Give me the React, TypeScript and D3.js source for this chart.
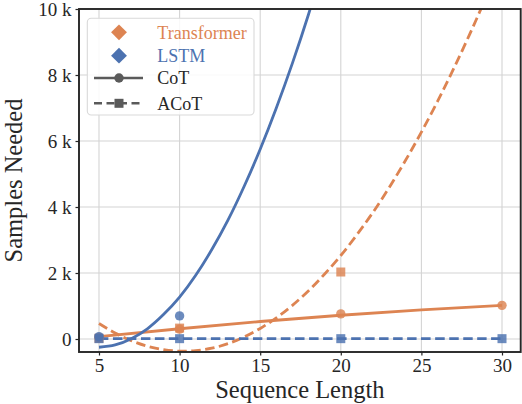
import React, { useEffect, useRef } from 'react';
import * as d3 from 'd3';

// measured points
const seqLen = [5, 10, 20, 30];
const transformerCoT = [50, 300, 760, 1020];
const transformerACoT = [20, 330, 2030, 11500];
const lstmCoT = [70, 700, 13500, 37000];
const lstmACoT = [10, 10, 10, 10];

// fitted curves
const fitTransformerCoTX = [5, 10, 15, 20, 25, 30];
const fitTransformerCoTY = [70, 310, 530, 720, 880, 1020];
const fitTransformerACoTX = [5, 6, 7, 8, 9, 10, 11, 12, 13, 14, 15, 16, 17, 18, 19, 20, 21, 22, 23, 24, 25, 26, 27, 28, 29, 30];
const fitTransformerACoTY = [470, 180, -50, -220, -320, -370, -350, -280, -140, 60, 320, 640, 1020, 1460, 1970, 2530, 3160, 3840, 4590, 5400, 6270, 7200, 8190, 9240, 10350, 11530];
const fitLstmCoTX = [5, 6, 7, 8, 9, 10, 11, 12, 13, 14, 15, 16, 17, 18, 19];
const fitLstmCoTY = [-250, -180, 10, 310, 740, 1270, 1930, 2710, 3600, 4620, 5750, 7000, 8360, 9840, 11440];
const fitLstmACoTX = [5, 10, 20, 30];
const fitLstmACoTY = [10, 10, 10, 10];

const xTicks = [5, 10, 15, 20, 25, 30];
const yTicks = [0, 2000, 4000, 6000, 8000, 10000];
const legendModels = ['Transformer', 'LSTM'];
const legendMethods = ['CoT', 'ACoT'];

const ORANGE = '#dd8452';
const BLUE = '#4c72b0';
const FONT = "'Liberation Serif', 'DejaVu Serif', serif";

const Chart = () => {
    const ref = useRef<SVGSVGElement>(null);

    useEffect(() => {
        const svg = d3.select(ref.current);
        svg.selectAll('*').remove();

        const left = 79, right = 520.7, top = 9, bottom = 352;
        const x = d3.scaleLinear().domain([3.76, 31.16]).range([left, right]);
        const y = d3.scaleLinear().domain([-394, 10000]).range([bottom, top]);

        svg.append('defs').append('clipPath').attr('id', 'plot-clip')
            .append('rect')
            .attr('x', left).attr('y', top)
            .attr('width', right - left).attr('height', bottom - top);

        // grid
        const grid = svg.append('g').attr('stroke', '#d4d4d4').attr('stroke-width', 1.1);
        grid.selectAll('.vx').data(xTicks).enter().append('line')
            .attr('x1', d => x(d)).attr('x2', d => x(d))
            .attr('y1', top).attr('y2', bottom);
        grid.selectAll('.hy').data(yTicks).enter().append('line')
            .attr('x1', left).attr('x2', right)
            .attr('y1', d => y(d)).attr('y2', d => y(d));

        const plot = svg.append('g').attr('clip-path', 'url(#plot-clip)');
        const line = d3.line<[number, number]>()
            .x(d => x(d[0]))
            .y(d => y(d[1]))
            .curve(d3.curveNatural);

        const curves = [
            { xs: fitTransformerCoTX, ys: fitTransformerCoTY, color: ORANGE, dash: null },
            { xs: fitTransformerACoTX, ys: fitTransformerACoTY, color: ORANGE, dash: '9.5,4.5' },
            { xs: fitLstmCoTX, ys: fitLstmCoTY, color: BLUE, dash: null },
            { xs: fitLstmACoTX, ys: fitLstmACoTY, color: BLUE, dash: '9.5,4.5' },
        ];
        curves.forEach(c => {
            plot.append('path')
                .datum(c.xs.map((v, i) => [v, c.ys[i]] as [number, number]))
                .attr('d', line)
                .attr('fill', 'none')
                .attr('stroke', c.color)
                .attr('stroke-width', 2.8)
                .attr('stroke-dasharray', c.dash);
        });

        const series = [
            { vals: transformerCoT, color: ORANGE, shape: 'circle' },
            { vals: transformerACoT, color: ORANGE, shape: 'square' },
            { vals: lstmCoT, color: BLUE, shape: 'circle' },
            { vals: lstmACoT, color: BLUE, shape: 'square' },
        ];
        series.forEach(s => {
            const g = plot.append('g').attr('fill', s.color).attr('opacity', 0.82);
            if (s.shape === 'circle') {
                g.selectAll('circle').data(s.vals).enter().append('circle')
                    .attr('cx', (d, i) => x(seqLen[i]))
                    .attr('cy', d => y(d))
                    .attr('r', 4.7);
            } else {
                g.selectAll('rect').data(s.vals).enter().append('rect')
                    .attr('x', (d, i) => x(seqLen[i]) - 4.5)
                    .attr('y', d => y(d) - 4.5)
                    .attr('width', 9)
                    .attr('height', 9);
            }
        });

        // axes
        const xAxis = svg.append('g')
            .attr('transform', `translate(0, ${bottom})`)
            .call(d3.axisBottom(x).tickValues(xTicks).tickSize(3.5).tickPadding(3.5));
        const yAxis = svg.append('g')
            .attr('transform', `translate(${left}, 0)`)
            .call(d3.axisLeft(y).tickValues(yTicks).tickSize(3.5).tickPadding(4)
                .tickFormat(d => (+d === 0 ? '0' : `${+d / 1000} k`)));
        [xAxis, yAxis].forEach(a => {
            a.attr('font-family', null).attr('font-size', null);
            a.select('.domain').remove();
            a.selectAll('line').attr('stroke', '#262626').attr('stroke-width', 1.2);
            a.selectAll('text').attr('fill', '#262626').style('font-size', '19px');
        });

        // frame
        svg.append('rect')
            .attr('x', left).attr('y', top)
            .attr('width', right - left).attr('height', bottom - top)
            .attr('fill', 'none')
            .attr('stroke', '#262626')
            .attr('stroke-width', 1.9);

        svg.append('text')
            .attr('x', (left + right) / 2)
            .attr('y', 397.5)
            .attr('text-anchor', 'middle')
            .attr('fill', '#262626')
            .style('font-size', '24.5px')
            .text('Sequence Length');

        svg.append('text')
            .attr('transform', `translate(22, ${(top + bottom) / 2}) rotate(-90)`)
            .attr('text-anchor', 'middle')
            .attr('fill', '#262626')
            .style('font-size', '24.5px')
            .text('Samples Needed');

        // legend
        const lg = svg.append('g').style('font-size', '18px');
        lg.append('rect')
            .attr('x', 87.3).attr('y', 18.3)
            .attr('width', 166.7).attr('height', 96.7)
            .attr('rx', 4)
            .attr('fill', 'white')
            .attr('fill-opacity', 0.85)
            .attr('stroke', '#d9d9d9')
            .attr('stroke-width', 1.1);

        const rowsY = [32.3, 55.7, 78, 103.3];
        const handleX = 119;
        legendModels.forEach((m, i) => {
            const c = i === 0 ? ORANGE : BLUE;
            lg.append('path')
                .attr('d', d3.symbol(d3.symbolDiamond2, 160)())
                .attr('transform', `translate(${handleX}, ${rowsY[i]})`)
                .attr('fill', c);
            lg.append('text')
                .attr('x', 157.3).attr('y', rowsY[i])
                .attr('dy', '0.35em')
                .attr('fill', c)
                .text(m);
        });
        legendMethods.forEach((m, i) => {
            const yy = rowsY[i + 2];
            lg.append('line')
                .attr('x1', 94).attr('x2', 143)
                .attr('y1', yy).attr('y2', yy)
                .attr('stroke', '#5a5a5a')
                .attr('stroke-width', 2.4)
                .attr('stroke-dasharray', i === 0 ? null : '8,4.5');
            if (i === 0) {
                lg.append('circle').attr('cx', handleX).attr('cy', yy).attr('r', 4.7).attr('fill', '#5a5a5a');
            } else {
                lg.append('rect').attr('x', handleX - 4.5).attr('y', yy - 4.5)
                    .attr('width', 9).attr('height', 9).attr('fill', '#5a5a5a');
            }
            lg.append('text')
                .attr('x', 157.3).attr('y', yy)
                .attr('dy', '0.35em')
                .attr('fill', '#262626')
                .text(m);
        });
    }, []);

    return (
        <svg ref={ref} width={522} height={404}
            style={{ position: 'absolute', left: 0, top: 0, background: 'white', fontFamily: FONT }} />
    );
};

export default function App() {
    return <Chart />;
}
